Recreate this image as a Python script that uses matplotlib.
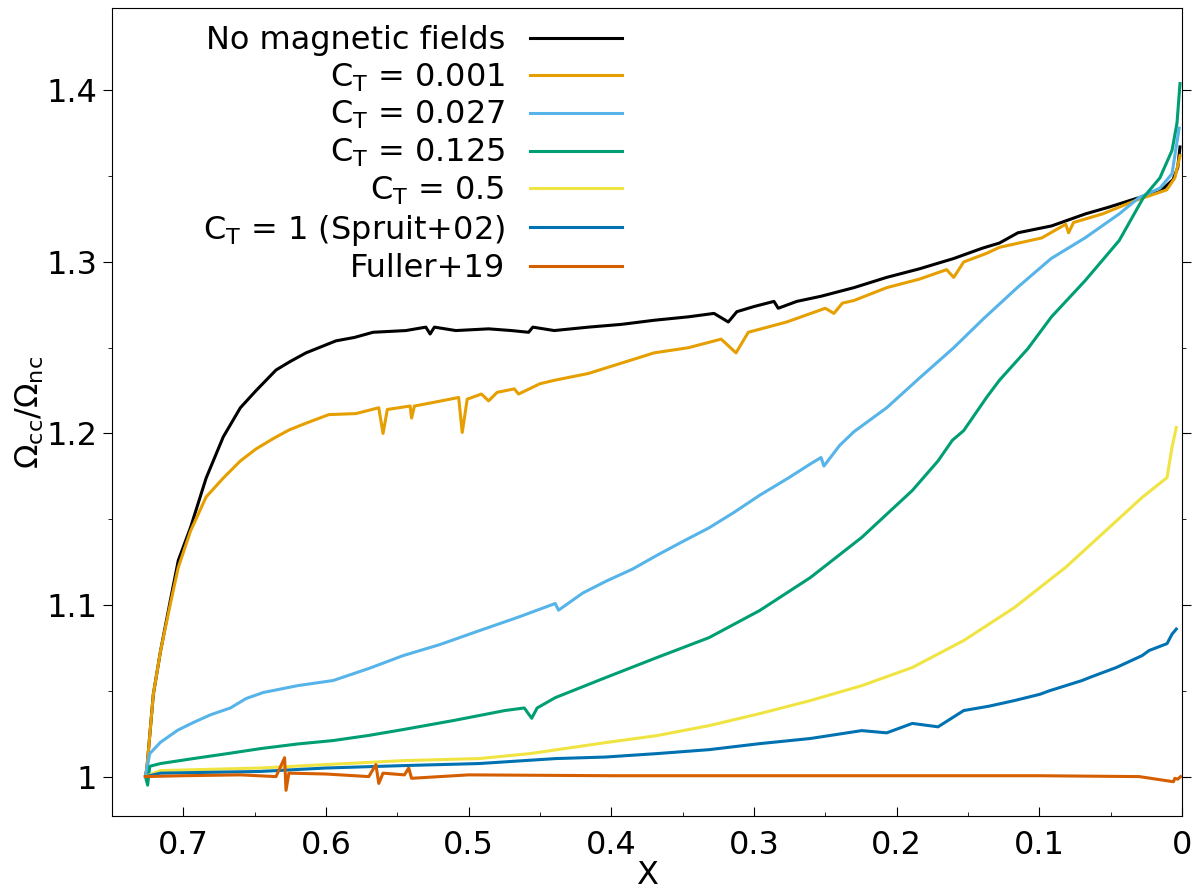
import numpy as np
import matplotlib
matplotlib.use("Agg")
import matplotlib.pyplot as plt
from matplotlib.ticker import MultipleLocator, FuncFormatter

plt.rcParams["font.family"] = "DejaVu Sans"
plt.rcParams["mathtext.default"] = "regular"
plt.rcParams["font.size"] = 23

# --- no magnetic fields
x_none = [0.7265, 0.7255, 0.721, 0.716, 0.709, 0.7035, 0.695, 0.684, 0.672, 0.660,
          0.649, 0.635, 0.625, 0.614, 0.602, 0.593, 0.580, 0.567, 0.544, 0.530,
          0.527, 0.524, 0.509, 0.486, 0.470, 0.458, 0.455, 0.440, 0.416, 0.393,
          0.370, 0.346, 0.328, 0.318, 0.312, 0.300, 0.286, 0.283, 0.270, 0.253,
          0.230, 0.207, 0.184, 0.160, 0.140, 0.128, 0.115, 0.0914, 0.0677, 0.051,
          0.032, 0.0154, 0.0063, 0.003, 0.0014]
y_none = [1.000, 1.005, 1.048, 1.073, 1.103, 1.126, 1.145, 1.174, 1.198, 1.215,
          1.225, 1.237, 1.242, 1.247, 1.251, 1.254, 1.256, 1.259, 1.260, 1.262,
          1.258, 1.262, 1.260, 1.261, 1.260, 1.259, 1.262, 1.260, 1.262, 1.2636,
          1.266, 1.268, 1.270, 1.265, 1.271, 1.274, 1.277, 1.273, 1.277, 1.280,
          1.285, 1.291, 1.296, 1.302, 1.308, 1.311, 1.317, 1.321, 1.328, 1.332,
          1.337, 1.341, 1.348, 1.355, 1.367]

# --- C_T = 0.001
x_001 = [0.7265, 0.7255, 0.721, 0.716, 0.709, 0.7035, 0.695, 0.684, 0.672, 0.660,
         0.649, 0.637, 0.626, 0.614, 0.598, 0.579, 0.563, 0.560, 0.557, 0.541,
         0.540, 0.538, 0.521, 0.507, 0.5045, 0.501, 0.491, 0.486, 0.480, 0.468,
         0.465, 0.450, 0.440, 0.416, 0.393, 0.370, 0.346, 0.323, 0.3126, 0.304,
         0.277, 0.250, 0.244, 0.238, 0.230, 0.207, 0.184, 0.165, 0.160, 0.153,
         0.137, 0.128, 0.0983, 0.0815, 0.0795, 0.076, 0.0557, 0.032, 0.0107, 0.005,
         0.0014]
y_001 = [1.000, 1.005, 1.048, 1.073, 1.101, 1.122, 1.143, 1.163, 1.174, 1.184,
         1.191, 1.197, 1.202, 1.206, 1.211, 1.2116, 1.215, 1.200, 1.214, 1.216,
         1.209, 1.216, 1.2187, 1.221, 1.2006, 1.220, 1.223, 1.219, 1.224, 1.226,
         1.223, 1.229, 1.231, 1.235, 1.241, 1.247, 1.250, 1.255, 1.247, 1.259,
         1.265, 1.273, 1.270, 1.276, 1.2775, 1.285, 1.290, 1.2955, 1.291, 1.300,
         1.305, 1.3085, 1.314, 1.322, 1.317, 1.323, 1.328, 1.336, 1.342, 1.349,
         1.362]

# --- C_T = 0.027
x_027 = [0.7265, 0.7235, 0.716, 0.704, 0.693, 0.681, 0.667, 0.656, 0.644, 0.620,
         0.595, 0.570, 0.546, 0.520, 0.4927, 0.465, 0.4393, 0.437, 0.420, 0.4034,
         0.385, 0.368, 0.350, 0.3315, 0.314, 0.296, 0.276, 0.260, 0.253, 0.251,
         0.240, 0.230, 0.207, 0.1835, 0.160, 0.139, 0.1155, 0.0917, 0.068, 0.044,
         0.030, 0.0155, 0.007, 0.002]
y_027 = [1.000, 1.0134, 1.020, 1.027, 1.0315, 1.036, 1.040, 1.0455, 1.049, 1.053,
         1.056, 1.063, 1.0705, 1.077, 1.085, 1.093, 1.1009, 1.097, 1.107, 1.114,
         1.121, 1.129, 1.137, 1.145, 1.154, 1.164, 1.174, 1.1825, 1.186, 1.181,
         1.193, 1.201, 1.215, 1.2327, 1.250, 1.267, 1.285, 1.302, 1.314, 1.328,
         1.3376, 1.343, 1.3514, 1.378]

# --- C_T = 0.125
x_125 = [0.7265, 0.725, 0.7235, 0.716, 0.693, 0.669, 0.646, 0.620, 0.595, 0.570,
         0.546, 0.5105, 0.4746, 0.461, 0.4558, 0.452, 0.4393, 0.404, 0.368, 0.3315,
         0.296, 0.2605, 0.2245, 0.189, 0.171, 0.161, 0.153, 0.137, 0.128, 0.108,
         0.0915, 0.068, 0.044, 0.027, 0.0155, 0.007, 0.0035, 0.0014]
y_125 = [1.000, 0.995, 1.006, 1.0076, 1.0105, 1.0134, 1.0163, 1.019, 1.021, 1.024,
         1.0274, 1.0327, 1.0385, 1.040, 1.034, 1.040, 1.046, 1.0577, 1.0694, 1.081,
         1.0968, 1.116, 1.1394, 1.1668, 1.184, 1.196, 1.2017, 1.221, 1.231, 1.2495,
         1.268, 1.289, 1.3125, 1.3376, 1.349, 1.365, 1.381, 1.404]

# --- C_T = 0.5
x_05 = [0.7265, 0.716, 0.646, 0.600, 0.546, 0.4927, 0.457, 0.404, 0.368, 0.3315,
        0.296, 0.2605, 0.2245, 0.189, 0.153, 0.1175, 0.0815, 0.046, 0.028, 0.0105,
        0.007, 0.004]
y_05 = [1.000, 1.0035, 1.005, 1.007, 1.0093, 1.0105, 1.0134, 1.0198, 1.0239, 1.0297,
        1.0367, 1.0443, 1.053, 1.0636, 1.0793, 1.0985, 1.122, 1.149, 1.1627, 1.1743,
        1.192, 1.2035]

# --- C_T = 1 (Spruit+02)
x_1 = [0.7265, 0.716, 0.646, 0.600, 0.546, 0.4927, 0.439, 0.404, 0.368, 0.3315,
       0.296, 0.2605, 0.2245, 0.207, 0.189, 0.171, 0.153, 0.1355, 0.1175, 0.0995,
       0.093, 0.0815, 0.070, 0.064, 0.046, 0.028, 0.023, 0.0105, 0.007, 0.004]
y_1 = [1.000, 1.002, 1.003, 1.005, 1.0064, 1.0076, 1.0105, 1.0114, 1.0134, 1.0157,
       1.0192, 1.0222, 1.0268, 1.0255, 1.031, 1.029, 1.0385, 1.041, 1.0443, 1.048,
       1.050, 1.053, 1.056, 1.058, 1.0636, 1.0705, 1.0735, 1.0775, 1.083, 1.086]

# --- Fuller+19
x_ful = [0.7265, 0.70, 0.66, 0.635, 0.629, 0.628, 0.626, 0.60, 0.57, 0.565,
         0.563, 0.560, 0.545, 0.542, 0.540, 0.50, 0.40, 0.30, 0.20, 0.10,
         0.03, 0.006, 0.005, 0.003, 0.001]
y_ful = [1.000, 1.0005, 1.001, 1.000, 1.011, 0.992, 1.002, 1.0015, 1.000, 1.007,
         0.996, 1.002, 1.001, 1.005, 0.999, 1.001, 1.0005, 1.0005, 1.0005, 1.0005,
         1.000, 0.997, 0.999, 0.9985, 1.000]

series = [
    (x_none, y_none, "No magnetic fields", "black"),
    (x_001, y_001, "C$_T$ = 0.001", "#E69F00"),
    (x_027, y_027, "C$_T$ = 0.027", "#56B4E9"),
    (x_125, y_125, "C$_T$ = 0.125", "#009E73"),
    (x_05, y_05, "C$_T$ = 0.5", "#F0E442"),
    (x_1, y_1, "C$_T$ = 1 (Spruit+02)", "#0072B2"),
    (x_ful, y_ful, "Fuller+19", "#D55E00"),
]

fig = plt.figure(figsize=(12, 8.94), dpi=100)
ax = fig.add_axes([0.0933, 0.0872, 0.8917, 0.9038])

for xs, ys, lab, col in series:
    ax.plot(xs, ys, color=col, lw=2.2, label=lab)

ax.set_xlim(0.75, 0)
ax.set_ylim(0.977, 1.448)

ax.xaxis.set_major_locator(MultipleLocator(0.1))
ax.xaxis.set_minor_locator(MultipleLocator(0.05))
ax.yaxis.set_major_locator(MultipleLocator(0.1))
ax.yaxis.set_minor_locator(MultipleLocator(0.05))
fmt = FuncFormatter(lambda v, p: "%g" % round(v, 3))
ax.xaxis.set_major_formatter(fmt)
ax.yaxis.set_major_formatter(fmt)

ax.tick_params(axis="x", which="both", direction="in", top=False, pad=10)
ax.tick_params(axis="x", which="major", length=6.5)
ax.tick_params(axis="x", which="minor", length=3)
ax.tick_params(axis="y", which="both", direction="out", left=True, right=True, pad=4)
ax.tick_params(axis="y", which="major", length=6.5)
ax.tick_params(axis="y", which="minor", length=3)

ax.set_xlabel("X", labelpad=-1)
ax.set_ylabel(r"$\Omega_{cc}/\Omega_{nc}$", labelpad=0)

ax.legend(loc="upper left", bbox_to_anchor=(0.064, 1.007), frameon=False,
          markerfirst=False, handlelength=2.85, handletextpad=0.8,
          labelspacing=0.17, borderaxespad=0.3)

fig.savefig("out.png", dpi=100)
